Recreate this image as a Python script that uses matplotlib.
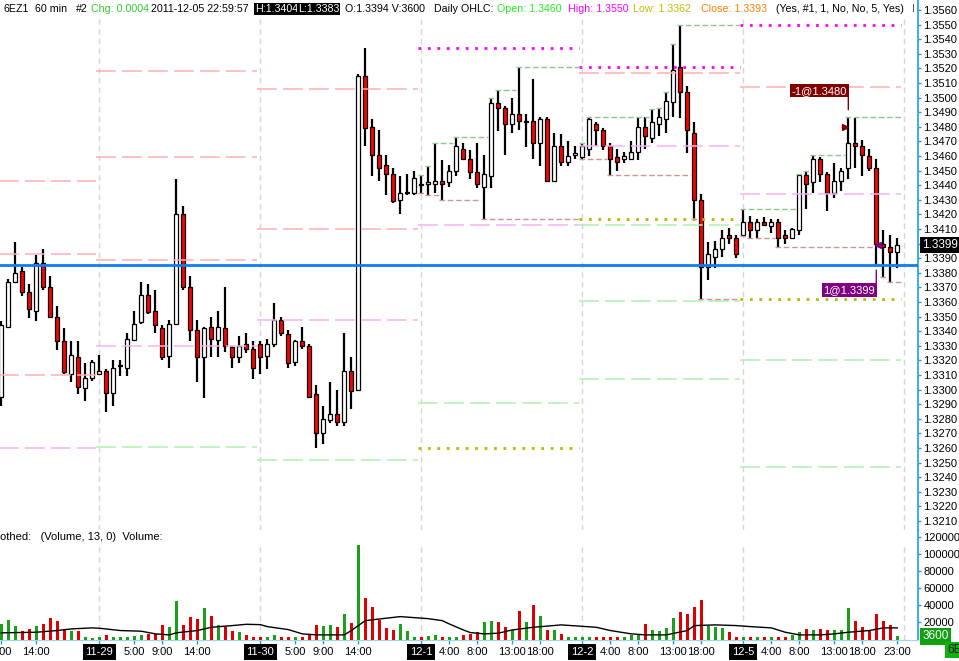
import matplotlib
matplotlib.use("Agg")
import matplotlib.pyplot as plt
from matplotlib.transforms import offset_copy
import numpy as np

plt.rcParams['font.family'] = ['Liberation Sans', 'DejaVu Sans']
plt.rcParams['font.size'] = 8

# 6EZ1 60 min bars, 2011-11-28 09:00 .. 2011-12-05 23:00
opens = [1.3295, 1.3343, 1.3374, 1.3381, 1.3367, 1.3354, 1.3387, 1.3370, 1.3350, 1.3333,
         1.3311, 1.3322, 1.3301, 1.3308, 1.3311, 1.3313, 1.3298, 1.3316, 1.3315, 1.3334,
         1.3346, 1.3365, 1.3354, 1.3342, 1.3323, 1.3345, 1.3420, 1.3370, 1.3341, 1.3322,
         1.3343, 1.3334, 1.3342, 1.3329, 1.3322, 1.3331, 1.3328, 1.3331, 1.3323, 1.3331,
         1.3348, 1.3338, 1.3319, 1.3333, 1.3330, 1.3297, 1.3270, 1.3279, 1.3283, 1.3278,
         1.3313, 1.3300, 1.3515, 1.3480, 1.3461, 1.3454, 1.3448, 1.3430, 1.3435, 1.3435,
         1.3441, 1.3441, 1.3441, 1.3443, 1.3442, 1.3450, 1.3465, 1.3458, 1.3449, 1.3439,
         1.3446, 1.3496, 1.3493, 1.3482, 1.3489, 1.3483, 1.3484, 1.3469, 1.3485, 1.3443,
         1.3467, 1.3456, 1.3461, 1.3459, 1.3465, 1.3482, 1.3478, 1.3467, 1.3459, 1.3458,
         1.3458, 1.3463, 1.3480, 1.3472, 1.3482, 1.3485, 1.3497, 1.3521, 1.3504, 1.3476,
         1.3430, 1.3384, 1.3391, 1.3396, 1.3406, 1.3404, 1.3406, 1.3415, 1.3409, 1.3415,
         1.3412, 1.3415, 1.3406, 1.3404, 1.3409, 1.3447, 1.3442, 1.3458, 1.3448, 1.3435,
         1.3443, 1.3452, 1.3469, 1.3467, 1.3460, 1.3452, 1.3400, 1.3398, 1.3394]
highs = [1.3347, 1.3376, 1.3401, 1.3384, 1.3372, 1.3392, 1.3396, 1.3378, 1.3357, 1.3342,
         1.3333, 1.3333, 1.3318, 1.3320, 1.3324, 1.3314, 1.3320, 1.3320, 1.3339, 1.3354,
         1.3374, 1.3372, 1.3368, 1.3344, 1.3348, 1.3444, 1.3426, 1.3378, 1.3348, 1.3343,
         1.3350, 1.3354, 1.3370, 1.3330, 1.3337, 1.3339, 1.3333, 1.3333, 1.3335, 1.3359,
         1.3350, 1.3341, 1.3334, 1.3343, 1.3331, 1.3303, 1.3289, 1.3305, 1.3300, 1.3339,
         1.3322, 1.3516, 1.3534, 1.3485, 1.3478, 1.3461, 1.3452, 1.3446, 1.3448, 1.3450,
         1.3447, 1.3453, 1.3469, 1.3457, 1.3454, 1.3473, 1.3469, 1.3464, 1.3469, 1.3461,
         1.3500, 1.3505, 1.3494, 1.3500, 1.3521, 1.3489, 1.3513, 1.3487, 1.3487, 1.3476,
         1.3475, 1.3470, 1.3467, 1.3469, 1.3487, 1.3483, 1.3479, 1.3469, 1.3465, 1.3463,
         1.3470, 1.3487, 1.3487, 1.3492, 1.3493, 1.3504, 1.3537, 1.3550, 1.3508, 1.3483,
         1.3434, 1.3401, 1.3402, 1.3409, 1.3411, 1.3406, 1.3424, 1.3419, 1.3417, 1.3418,
         1.3417, 1.3417, 1.3409, 1.3411, 1.3448, 1.3450, 1.3461, 1.3459, 1.3449, 1.3455,
         1.3452, 1.3487, 1.3486, 1.3471, 1.3465, 1.3458, 1.3409, 1.3406, 1.3404]
lows = [1.3289, 1.3342, 1.3373, 1.3364, 1.3349, 1.3347, 1.3368, 1.3349, 1.3327, 1.3311,
        1.3305, 1.3297, 1.3292, 1.3306, 1.3310, 1.3285, 1.3289, 1.3309, 1.3309, 1.3333,
        1.3345, 1.3352, 1.3339, 1.3320, 1.3315, 1.3344, 1.3368, 1.3333, 1.3305, 1.3294,
        1.3322, 1.3322, 1.3326, 1.3315, 1.3318, 1.3325, 1.3307, 1.3311, 1.3314, 1.3329,
        1.3337, 1.3315, 1.3316, 1.3328, 1.3294, 1.3260, 1.3263, 1.3277, 1.3275, 1.3275,
        1.3287, 1.3299, 1.3467, 1.3446, 1.3443, 1.3433, 1.3428, 1.3420, 1.3433, 1.3433,
        1.3435, 1.3433, 1.3435, 1.3430, 1.3439, 1.3446, 1.3457, 1.3444, 1.3438, 1.3417,
        1.3438, 1.3477, 1.3461, 1.3476, 1.3478, 1.3466, 1.3458, 1.3453, 1.3442, 1.3442,
        1.3453, 1.3453, 1.3458, 1.3458, 1.3460, 1.3467, 1.3464, 1.3447, 1.3450, 1.3455,
        1.3457, 1.3457, 1.3465, 1.3469, 1.3474, 1.3476, 1.3487, 1.3486, 1.3462, 1.3417,
        1.3362, 1.3375, 1.3383, 1.3391, 1.3400, 1.3390, 1.3405, 1.3404, 1.3404, 1.3412,
        1.3407, 1.3398, 1.3400, 1.3403, 1.3406, 1.3424, 1.3435, 1.3442, 1.3422, 1.3431,
        1.3436, 1.3444, 1.3452, 1.3446, 1.3450, 1.3386, 1.3377, 1.3374, 1.3383]
closes = [1.3344, 1.3374, 1.3380, 1.3367, 1.3355, 1.3387, 1.3370, 1.3350, 1.3333, 1.3312,
          1.3324, 1.3302, 1.3308, 1.3319, 1.3313, 1.3298, 1.3315, 1.3316, 1.3335, 1.3345,
          1.3365, 1.3353, 1.3344, 1.3322, 1.3345, 1.3420, 1.3370, 1.3341, 1.3322, 1.3342,
          1.3335, 1.3343, 1.3330, 1.3322, 1.3330, 1.3328, 1.3315, 1.3322, 1.3331, 1.3348,
          1.3339, 1.3318, 1.3333, 1.3330, 1.3295, 1.3270, 1.3280, 1.3283, 1.3278, 1.3313,
          1.3299, 1.3515, 1.3479, 1.3461, 1.3452, 1.3448, 1.3429, 1.3435, 1.3435, 1.3445,
          1.3440, 1.3442, 1.3443, 1.3441, 1.3450, 1.3467, 1.3458, 1.3449, 1.3441, 1.3448,
          1.3496, 1.3493, 1.3482, 1.3489, 1.3484, 1.3484, 1.3469, 1.3485, 1.3443, 1.3467,
          1.3456, 1.3460, 1.3462, 1.3467, 1.3485, 1.3478, 1.3467, 1.3458, 1.3456, 1.3460,
          1.3463, 1.3480, 1.3474, 1.3483, 1.3487, 1.3498, 1.3519, 1.3504, 1.3478, 1.3430,
          1.3384, 1.3393, 1.3396, 1.3404, 1.3404, 1.3393, 1.3415, 1.3409, 1.3415, 1.3413,
          1.3415, 1.3404, 1.3404, 1.3410, 1.3447, 1.3441, 1.3458, 1.3448, 1.3435, 1.3443,
          1.3450, 1.3469, 1.3467, 1.3461, 1.3452, 1.3400, 1.3398, 1.3394, 1.3399]
volumes = [18200, 22900, 15900, 10500, 12400, 15900, 18200, 25200, 21300, 12400,
           9700, 10500, 2700, 1900, 3500, 4700, 2700, 2700, 3500, 4300,
           5400, 6600, 6600, 16700, 15100, 44600, 17400, 26700, 23600, 36400,
           27900, 16700, 14700, 9700, 9300, 5400, 3500, 3500, 3500, 5800,
           3500, 3500, 3500, 3500, 6600, 17400, 16300, 17400, 14300, 29800,
           19000, 110500, 48500, 38400, 22900, 13600, 11200, 18200, 9700, 3500,
           3500, 4300, 5800, 3500, 3500, 3500, 5800, 6600, 8500, 20200,
           21300, 20200, 14300, 11200, 33700, 20200, 40700, 27900, 11600, 11600,
           6600, 3500, 2700, 3500, 3500, 2700, 3500, 2700, 3500, 3500,
           4700, 6600, 18200, 11200, 10500, 13600, 25200, 31800, 29800, 37600,
           46500, 16300, 14300, 13200, 8500, 3500, 3500, 3500, 3500, 3500,
           3500, 3500, 3500, 4700, 8500, 12400, 11600, 12400, 11200, 11600,
           11600, 36400, 22100, 14300, 10500, 29800, 21300, 17000, 3600]

# smoothed volume line (Volume, 13, 0) read at these bars
ma_bars = [0, 2, 5, 8, 10, 13, 14, 17, 20, 22, 24, 25, 28, 30, 33, 35, 37, 38, 41, 43,
           45, 49, 50, 52, 54, 57, 61, 63, 64, 66, 67, 69, 71, 73, 76, 80, 85, 87, 90, 92,
           95, 98, 99, 102, 105, 107, 110, 112, 114, 117, 119, 121, 124, 126, 128]
ma_values = [7800, 8100, 8500, 10500, 12400, 13600, 13200, 10500, 9700, 6600,
             5400, 7800, 10500, 14300, 16300, 17800, 17400, 15100, 11600, 6600,
             5400, 5400, 10500, 22100, 24000, 26800, 24400, 22100, 18200, 11200,
             8100, 6600, 7400, 11200, 14300, 17100, 14300, 10500, 6600, 5400,
             5400, 10500, 16300, 17100, 16300, 15100, 13600, 8500, 5400, 5400,
             6600, 8500, 10500, 13600, 13600]

# sessions: first bar of each day (bar 0 is 11-28 09:00)
day_first_bar = [0, 14, 37, 60, 83, 106]
bars_total = 129

# daily pivot levels per session (index into day_first_bar)
salmon_levels = {0: [1.3443, 1.3393, 1.3310], 1: [1.3518, 1.3459, 1.3389],
                 2: [1.3506, 1.3410], 4: [1.3517], 5: [1.3507]}
pink_levels = {0: [1.3260], 1: [1.3330], 2: [1.3348], 3: [1.3413], 4: [1.3467], 5: [1.3434]}
green_levels = {1: [1.3261], 2: [1.3252], 3: [1.3291], 4: [1.3413, 1.3361, 1.3307],
                5: [1.3320, 1.3247]}
prior_days = [3, 4, 5]          # sessions with prior-day high / low lines
running_days = [3, 4, 5]        # sessions with running high / low steps

tick_bars = [0, 5, 14, 19, 23, 28, 37, 42, 46, 51, 60, 64, 68, 73, 77,
             83, 87, 91, 96, 100, 106, 110, 114, 119, 123, 128]
tick_labels = ['9:00', '14:00', '11-29', '5:00', '9:00', '14:00', '11-30', '5:00', '9:00',
               '14:00', '12-1', '4:00', '8:00', '13:00', '18:00', '12-2', '4:00', '8:00',
               '13:00', '18:00', '12-5', '4:00', '8:00', '13:00', '18:00', '23:00']

hline_price = 1.3385
exec_bars = [121, 125]
exec_prices = [1.3480, 1.3399]
exec_qty = [-1, 1]

# ---------------------------------------------------------------
W, H = 959, 661
fig = plt.figure(figsize=(W / 100, H / 100), dpi=100)
fig.patch.set_facecolor('white')


def fx(px):
    return px / W


def fy(py):
    return 1 - py / H


AXIS_BLUE = '#1e9ee0'
ax = fig.add_axes([0, fy(530), fx(918), fy(0) - fy(530)])
axv = fig.add_axes([0, fy(639.5), fx(918), fy(530) - fy(639.5)], sharex=ax)

ax.set_xlim(-1.3 / 7, (918 - 1.3) / 7)
ax.set_ylim(1.3560 - 520 / 14600, 1.3560 + 10 / 14600)
axv.set_ylim(0, 128200)

o, h, l, c = map(np.array, (opens, highs, lows, closes))
x = np.arange(len(o))
up = c > o
dn = c < o
flat = c == o

ax.vlines(x, l, h, color='black', lw=1.6, zorder=3)
ax.bar(x[up], (c - o)[up], bottom=o[up], width=0.6, color='white',
       edgecolor='black', lw=0.9, zorder=4)
ax.bar(x[dn], (o - c)[dn], bottom=c[dn], width=0.6, color='#ff0000',
       edgecolor='black', lw=0.9, zorder=4)
ax.hlines(o[flat], x[flat] - 0.35, x[flat] + 0.35, color='black', lw=1.6, zorder=4)

# day separators
for k in day_first_bar[1:] + [bars_total]:
    ax.axvline(k, ymax=0.964, color='#d6d6d6', lw=1, dashes=(4, 3), zorder=1)
    axv.axvline(k, ymax=0.88, color='#d6d6d6', lw=1, dashes=(4, 3), zorder=1)

day_bounds = day_first_bar + [bars_total]


def day_span(d):
    return day_bounds[d] - 0.5, day_bounds[d + 1] - 0.5


for levels, col in ((salmon_levels, '#ffb0b0'), (pink_levels, '#f4b4f0'),
                    (green_levels, '#b0f0b0')):
    for d, lv in levels.items():
        x0, x1 = day_span(d)
        ax.hlines(lv, x0, x1, color=col, lw=1.1, linestyles=(0, (13, 4)), zorder=5)

for d in prior_days:
    a, b = day_bounds[d - 1], day_bounds[d]
    x0, x1 = day_span(d)
    ax.hlines(h[a:b].max(), x0, x1, color='#ff00ff', lw=2.0, linestyles=(0, (1, 2.4)), zorder=5)
    ax.hlines(l[a:b].min(), x0, x1, color='#b8b800', lw=2.0, linestyles=(0, (1, 2.4)), zorder=5)

# running session high / low
for d in running_days:
    a, b = day_bounds[d], day_bounds[d + 1]
    for arr, fn, col in ((h, np.maximum, '#8cc88c'), (l, np.minimum, '#d09494')):
        run = fn.accumulate(arr[a:b])
        start = 0
        for i in range(1, len(run) + 1):
            if i == len(run) or run[i] != run[start]:
                ax.hlines(run[start], a + start - 0.5, a + i - 0.5, color=col,
                          lw=1.0, linestyles=(0, (4, 2)), zorder=5)
                start = i

ax.axhline(hline_price, color='#0a7ef2', lw=2.0, zorder=6)

# executions
exec_cols = {-1: '#800000', 1: '#800080'}
for bar, price, q in zip(exec_bars, exec_prices, exec_qty):
    col = exec_cols[q]
    if q < 0:
        ax.plot(bar - 0.45, price, marker='>', ms=5, color=col, zorder=7)
        dy_line, dy_box, va = (17, 30), 31, 'bottom'
    else:
        ax.plot(bar + 0.25, price, marker='<', ms=5, color=col, zorder=7)
        dy_line, dy_box, va = (-25, -39), -40, 'top'
    t1 = offset_copy(ax.transData, fig=fig, x=0, y=dy_line[0], units='dots')
    t2 = offset_copy(ax.transData, fig=fig, x=0, y=dy_line[1], units='dots')
    ax.annotate('', xy=(bar, price), xycoords=t1, xytext=(bar, price), textcoords=t2,
                arrowprops=dict(arrowstyle='-', color=col, lw=1, shrinkA=0, shrinkB=0),
                zorder=7)
    ax.annotate(f'{q}@{price:.4f}', xy=(bar, price), xytext=(-1, dy_box * 0.72),
                textcoords='offset points', ha='right', va=va, color='white',
                fontsize=8, zorder=8,
                bbox=dict(boxstyle='square,pad=0.15', fc=col, ec='none'))

# volume panel
vol_cols = np.where(c >= o, '#1aa01a', '#e00000')
axv.bar(x, volumes, width=0.45, color=vol_cols, zorder=3)
axv.plot(ma_bars, ma_values, color='black', lw=1, zorder=4)
axv.text(0.0, 120000, 'othed:   (Volume, 13, 0)  Volume:', fontsize=8, va='center',
         ha='left', transform=axv.get_yaxis_transform())

# axes styling
for a in (ax, axv):
    for s in ('left', 'top', 'bottom'):
        a.spines[s].set_visible(False)
    a.spines['right'].set_color(AXIS_BLUE)
    a.spines['right'].set_linewidth(1.2)
    a.yaxis.tick_right()
    a.tick_params(axis='y', colors=AXIS_BLUE, labelcolor='black', length=2.5,
                  width=1, pad=1.5, labelsize=8)
    a.set_facecolor('none')

ax.set_yticks(np.round(np.arange(1.3210, 1.35601, 0.001), 4))
ax.yaxis.set_major_formatter(plt.FormatStrFormatter('%.4f'))
ax.tick_params(axis='x', bottom=False, labelbottom=False)

axv.set_yticks(range(20000, 120001, 20000))
axv.yaxis.set_major_formatter(plt.FormatStrFormatter('%d'))
axv.spines['bottom'].set_visible(True)
axv.spines['bottom'].set_color('#9fd4f0')
axv.set_xticks(tick_bars)
axv.set_xticklabels(tick_labels)
axv.tick_params(axis='x', colors=AXIS_BLUE, labelcolor='black', length=3, width=1,
                pad=2.5, labelsize=8)
for lbl in axv.get_xticklabels():
    if '-' in lbl.get_text():
        lbl.set_color('white')
        lbl.set_bbox(dict(boxstyle='square,pad=0.25', fc='black', ec='none'))

# last price and last volume boxes
ax.annotate(f'{c[-1]:.4f}', xy=(1, c[-1]), xycoords=('axes fraction', 'data'),
            xytext=(3, 0), textcoords='offset points', ha='left', va='center',
            color='white', fontsize=8.5, annotation_clip=False, zorder=9,
            bbox=dict(boxstyle='square,pad=0.2', fc='black', ec='none'))
axv.annotate(f'{volumes[-1]}', xy=(1, volumes[-1]), xycoords=('axes fraction', 'data'),
             xytext=(3, 0), textcoords='offset points', ha='left', va='center',
             color='white', fontsize=8.5, annotation_clip=False, zorder=9,
             bbox=dict(boxstyle='square,pad=0.2', fc='#10a010', ec='none'))
fig.text(fx(947), fy(650), '6E', fontsize=8.5, color='#202020', va='center', ha='left',
         bbox=dict(boxstyle='square,pad=0.2', fc='#10b010', ec='none'))

# header
hy = fy(9)
header = [(3, '6EZ1', 'black', None), (35, '60 min', 'black', None), (76, '#2', 'black', None),
          (91, 'Chg: 0.0004', '#2ccc2c', None), (151, '2011-12-05 22:59:57', 'black', None),
          (255, 'H:1.3404', 'white', 'black'), (298, 'L:1.3383', 'white', 'black'),
          (345, 'O:1.3394 V:3600', 'black', None), (434, 'Daily OHLC:', 'black', None),
          (497, 'Open: 1.3460', '#22ee22', None), (568, 'High: 1.3550', '#ff00ff', None),
          (633, 'Low: 1.3362', '#c0c000', None), (701, 'Close: 1.3393', '#ff8000', None),
          (776, '(Yes, #1, 1, No, No, 5, Yes)', 'black', None), (912, 'I', '#555555', None)]
for px, txt, col, bg in header:
    kw = {}
    if bg:
        kw['bbox'] = dict(boxstyle='square,pad=0.1', fc=bg, ec='none')
    fig.text(fx(px), hy, txt, color=col, fontsize=7.7, va='center', ha='left', **kw)

fig.savefig('out.png', dpi=100, facecolor='white')
